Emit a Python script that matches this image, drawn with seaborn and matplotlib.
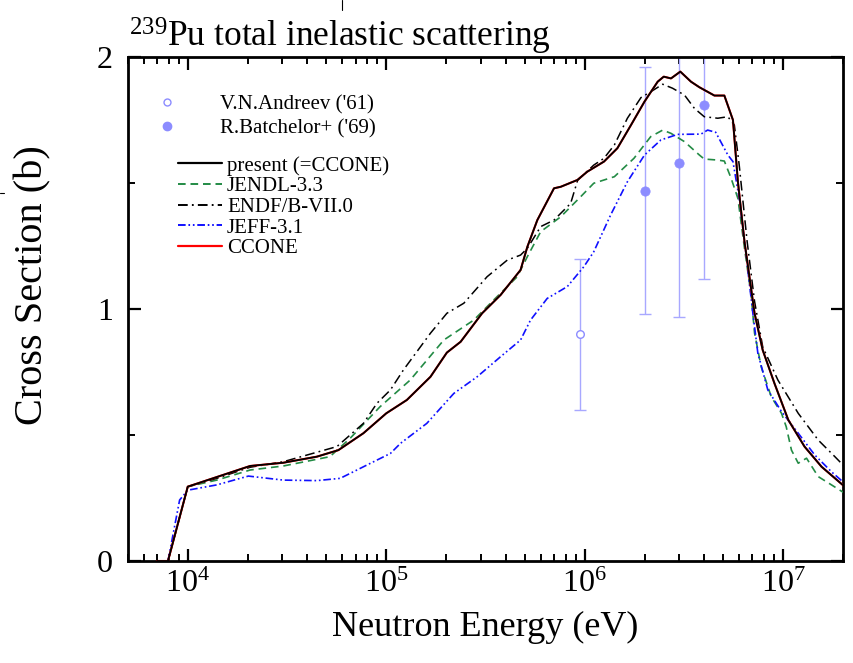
import matplotlib
matplotlib.use("Agg")
import matplotlib.pyplot as plt
from matplotlib.lines import Line2D
from matplotlib.ticker import LogLocator, NullFormatter, FixedLocator, FormatStrFormatter
import numpy as np
import pandas as pd
import seaborn as sns

# ---- evaluated cross sections (energy in eV, sigma in barn) ----
present_e = [7.0e3, 7.95e3, 1.0e4, 2.06e4, 3.03e4, 4.47e4, 5.74e4, 7.67e4, 1.0e5, 1.27e5,
             1.67e5, 2.02e5, 2.37e5, 3.04e5, 3.77e5, 4.75e5, 5.14e5, 5.77e5, 7.0e5, 7.57e5,
             9.18e5, 1.03e6, 1.25e6, 1.46e6, 1.71e6, 2.0e6, 2.33e6, 2.5e6, 2.72e6, 3.03e6,
             3.43e6, 3.78e6, 4.5e6, 5.05e6, 5.58e6, 5.91e6, 6.38e6, 7.17e6, 7.88e6, 9.03e6,
             1.06e7, 1.28e7, 1.56e7, 2.04e7]
present_xs = [0.0, 0.0, 0.295, 0.377, 0.39, 0.414, 0.44, 0.507, 0.586, 0.639,
              0.731, 0.827, 0.870, 0.983, 1.056, 1.155, 1.247, 1.353, 1.479, 1.485,
              1.512, 1.545, 1.585, 1.638, 1.730, 1.823, 1.902, 1.922, 1.915, 1.942,
              1.902, 1.880, 1.847, 1.847, 1.750, 1.505, 1.267, 0.983, 0.837, 0.705,
              0.560, 0.454, 0.374, 0.295]

jendl_e = [7.95e3, 1.0e4, 1.4e4, 2.06e4, 3.03e4, 5.2e4, 6.58e4, 9.3e4, 1.32e5, 1.95e5,
           2.76e5, 3.48e5, 4.57e5, 5.14e5, 6.0e5, 7.57e5, 9.55e5, 1.11e6, 1.41e6, 1.77e6,
           2.15e6, 2.47e6, 2.72e6, 3.18e6, 3.78e6, 4.0e6, 4.68e6, 5.05e6, 5.46e6, 5.91e6,
           6.38e6, 6.89e6, 7.17e6, 7.74e6, 8.7e6, 9.8e6, 1.035e7, 1.1e7, 1.19e7, 1.31e7,
           1.5e7, 1.75e7, 2.04e7]
jendl_xs = [0.0, 0.295, 0.321, 0.361, 0.377, 0.414, 0.487, 0.612, 0.718, 0.877,
            0.956, 1.036, 1.128, 1.208, 1.307, 1.366, 1.446, 1.499, 1.525, 1.598,
            1.684, 1.710, 1.697, 1.664, 1.611, 1.595, 1.591, 1.587, 1.519, 1.439,
            1.241, 1.056, 0.904, 0.771, 0.652, 0.586, 0.533, 0.440, 0.388, 0.408,
            0.335, 0.302, 0.269]

endf_e = [7.95e3, 1.0e4, 1.4e4, 2.06e4, 3.03e4, 5.64e4, 7.67e4, 8.98e4, 1.05e5, 1.22e5,
          1.67e5, 2.02e5, 2.46e5, 3.22e5, 4.07e5, 4.75e5, 5.14e5, 6.0e5, 7.0e5, 8.49e5,
          9.2e5, 1.11e6, 1.25e6, 1.41e6, 1.64e6, 1.92e6, 2.15e6, 2.47e6, 2.77e6, 3.18e6,
          3.57e6, 4.0e6, 4.68e6, 5.26e6, 5.67e6, 6.0e6, 6.58e6, 7.17e6, 7.88e6, 9.4e6,
          1.19e7, 1.5e7, 1.82e7, 2.04e7]
endf_xs = [0.0, 0.295, 0.328, 0.372, 0.394, 0.454, 0.546, 0.626, 0.679, 0.758,
           0.904, 0.983, 1.023, 1.128, 1.194, 1.214, 1.241, 1.327, 1.353, 1.419,
           1.510, 1.571, 1.598, 1.651, 1.757, 1.839, 1.862, 1.892, 1.876, 1.849,
           1.796, 1.763, 1.757, 1.763, 1.730, 1.571, 1.267, 1.030, 0.850, 0.718,
           0.586, 0.480, 0.414, 0.374]

jeff_e = [7.95e3, 9.1e3, 1.0e4, 1.4e4, 2.02e4, 3.03e4, 4.47e4, 5.86e4, 8.0e4, 1.05e5,
          1.18e5, 1.6e5, 2.19e5, 2.87e5, 3.77e5, 4.75e5, 5.33e5, 6.47e5, 8.17e5, 9.9e5,
          1.11e6, 1.35e6, 1.64e6, 2.0e6, 2.42e6, 2.94e6, 3.85e6, 4.16e6, 4.57e6, 5.26e6,
          5.58e6, 6.0e6, 6.5e6, 7.03e6, 7.45e6, 8.36e6, 9.8e6, 1.19e7, 1.44e7, 1.75e7,
          2.04e7]
jeff_xs = [0.0, 0.242, 0.281, 0.302, 0.337, 0.321, 0.319, 0.328, 0.381, 0.427,
           0.467, 0.546, 0.665, 0.731, 0.811, 0.877, 0.956, 1.042, 1.089, 1.168,
           1.227, 1.373, 1.505, 1.611, 1.671, 1.693, 1.694, 1.710, 1.701, 1.611,
           1.585, 1.439, 1.214, 0.983, 0.824, 0.679, 0.593, 0.507, 0.421, 0.354,
           0.308]

# ---- experimental data ----
andreev_e = [9.5e5]
andreev_xs = [0.90]
andreev_err = [0.30]

batch_e = [2.0e6, 3.0e6, 4.0e6]
batch_xs = [1.47, 1.58, 1.81]
batch_err = [0.49, 0.61, 0.69]

y_ticks = [0, 1, 2]
y_minor = [0.5, 1.5]

sns.set_theme(style="ticks")
plt.rcParams.update({
    "font.family": ["Liberation Serif", "DejaVu Serif"],
    "mathtext.fontset": "custom",
    "mathtext.rm": "Liberation Serif",
    "mathtext.it": "Liberation Serif:italic",
    "mathtext.bf": "Liberation Serif:bold",
    "lines.scale_dashes": False,
    "text.color": "black",
    "axes.labelcolor": "black",
    "xtick.color": "black",
    "ytick.color": "black",
})

exp_color = "#8c8cff"
err_color = "#a8a8ff"
green = "#238b45"
blue = "#1010ff"

fig = plt.figure(figsize=(8.54, 6.63), dpi=100)
ax = fig.add_axes([128 / 854, 102 / 663, 715 / 854, 504 / 663])

# experimental error bars and points
ax.errorbar(andreev_e, andreev_xs, yerr=andreev_err, fmt="none", ecolor=err_color,
            elinewidth=1.0, capsize=4, capthick=1.0, zorder=2)
ax.errorbar(batch_e, batch_xs, yerr=batch_err, fmt="none", ecolor=err_color,
            elinewidth=1.0, capsize=4, capthick=1.0, zorder=2)
sns.scatterplot(x=andreev_e, y=andreev_xs, ax=ax, marker="o", s=30, facecolor="white",
                edgecolor=exp_color, linewidth=1.0, zorder=3)
sns.scatterplot(x=batch_e, y=batch_xs, ax=ax, marker="o", s=45, color=exp_color,
                edgecolor=exp_color, linewidth=0.5, zorder=3)

# evaluated curves
sns.lineplot(x=jendl_e, y=jendl_xs, ax=ax, color=green, lw=1.2,
             linestyle=(0, (5.5, 3.5)), errorbar=None, zorder=4)
sns.lineplot(x=endf_e, y=endf_xs, ax=ax, color="black", lw=1.1,
             linestyle=(0, (7, 3, 1.3, 3)), errorbar=None, zorder=4)
sns.lineplot(x=jeff_e, y=jeff_xs, ax=ax, color=blue, lw=1.2,
             linestyle=(0, (5.5, 2, 1.2, 2, 1.2, 2)), errorbar=None, zorder=4)
sns.lineplot(x=present_e, y=present_xs, ax=ax, color="red", lw=1.5,
             errorbar=None, zorder=5)
sns.lineplot(x=present_e, y=present_xs, ax=ax, color="black", lw=1.3,
             errorbar=None, zorder=6)

ax.set_xscale("log")
ax.set_xlim(5e3, 2e7)
ax.set_ylim(0, 2)
ax.xaxis.set_major_locator(LogLocator(base=10, numticks=10))
ax.xaxis.set_minor_locator(LogLocator(base=10, subs=np.arange(2, 10), numticks=20))
ax.xaxis.set_minor_formatter(NullFormatter())
ax.yaxis.set_major_locator(FixedLocator(y_ticks))
ax.yaxis.set_minor_locator(FixedLocator(y_minor))
ax.yaxis.set_major_formatter(FormatStrFormatter("%d"))

for s in ax.spines.values():
    s.set_linewidth(2.0)
    s.set_color("black")
ax.tick_params(which="both", direction="in", top=True, right=True, colors="black")
ax.tick_params(which="major", length=9, width=1.6, labelsize=23)
ax.tick_params(which="minor", length=4.8, width=1.4)
ax.tick_params(axis="x", which="major", pad=6)
ax.tick_params(axis="y", which="major", pad=11)

ax.set_xlabel("Neutron Energy (eV)", fontsize=26)
ax.set_ylabel("Cross Section (b)", fontsize=29)
ax.xaxis.set_label_coords(0.5, -0.10)
ax.yaxis.set_label_coords(-0.107, 0.548)

fig.text(129 / 854, 1 - 47 / 663, r"$^{239}$Pu total inelastic scattering",
         fontsize=25.5, ha="left", va="baseline")

# legends
exp_handles = [
    Line2D([], [], ls="none", marker="o", ms=5, mfc="white", mec=exp_color, mew=1.0),
    Line2D([], [], ls="none", marker="o", ms=6, mfc=exp_color, mec=exp_color),
]
leg1 = ax.legend(exp_handles, ["V.N.Andreev ('61)", "R.Batchelor+ ('69)"],
                 loc="upper left", bbox_to_anchor=(161 / 854, 1 - 95 / 663),
                 bbox_transform=fig.transFigure, frameon=False, fontsize=15,
                 handlelength=0.6, handletextpad=2.25, labelspacing=0.2,
                 borderpad=0, borderaxespad=0)
ax.add_artist(leg1)

line_handles = [
    Line2D([], [], color="black", lw=1.6),
    Line2D([], [], color=green, lw=1.4, ls=(0, (5.5, 3.5))),
    Line2D([], [], color="black", lw=1.4, ls=(0, (7, 3, 1.3, 3))),
    Line2D([], [], color=blue, lw=1.4, ls=(0, (5.5, 2, 1.2, 2, 1.2, 2))),
    Line2D([], [], color="red", lw=1.6),
]
ax.legend(line_handles, ["present (=CCONE)", "JENDL-3.3", "ENDF/B-VII.0", "JEFF-3.1", "CCONE"],
          loc="upper left", bbox_to_anchor=(178 / 854, 1 - 156 / 663),
          bbox_transform=fig.transFigure, frameon=False, fontsize=15,
          handlelength=2.1, handletextpad=0.25, labelspacing=0.05,
          borderpad=0, borderaxespad=0)

# small stray marks present in the source image
fig.add_artist(Line2D([342 / 854, 342 / 854], [1.0, 1 - 10 / 663], color="black", lw=0.8,
                      transform=fig.transFigure))
fig.add_artist(Line2D([0, 4 / 854], [1 - 193 / 663, 1 - 193 / 663], color="black", lw=0.8,
                      transform=fig.transFigure))

fig.savefig("out.png", dpi=100)
